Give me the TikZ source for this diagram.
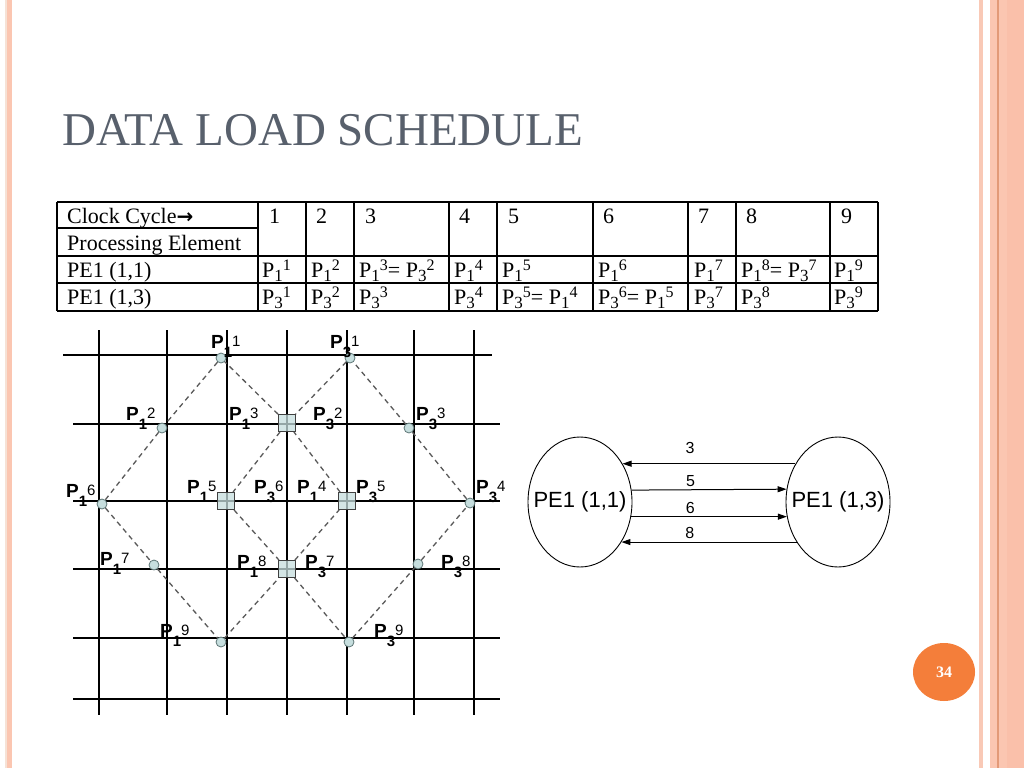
\documentclass[tikz,border=0pt]{standalone}
\usepackage{fontspec}
\setmainfont{Liberation Serif}
\newfontfamily\arialf{Liberation Sans}
\newfontfamily\dejavu{DejaVu Sans}
\usetikzlibrary{shapes.geometric,arrows.meta}
\definecolor{titlec}{HTML}{58606C}
\definecolor{ptfill}{HTML}{C6DEDE}
\definecolor{ptdraw}{HTML}{5E7676}
\definecolor{badgec}{HTML}{F47E3A}
\definecolor{stripeA}{HTML}{F9C9B6}
\definecolor{stripeB}{HTML}{FBC6B1}
\definecolor{stripeC}{HTML}{FAC0AA}
\definecolor{stripeD}{HTML}{E39A78}
\definecolor{stripeE}{HTML}{F6E2D6}
\newcommand\tp[2]{P\raisebox{-4pt}{\fontsize{17}{17}\selectfont #1}\raisebox{7pt}{\fontsize{16}{16}\selectfont #2}}
\newcommand\gp[2]{P\raisebox{-9pt}{\fontsize{15}{15}\selectfont\bfseries #1}\raisebox{2pt}{\fontsize{15}{15}\selectfont\mdseries #2}}
\tikzset{
  tcell/.style={anchor=base west, inner sep=0, font=\fontsize{22}{26}\selectfont},
  tline/.style={line width=1.2pt, black},
  gridl/.style={line width=1.4pt, black},
  dsh/.style={line width=1.3pt, draw=black!65, dash pattern=on 5pt off 4pt},
  ptc/.style={circle, draw=ptdraw, fill=ptfill, line width=0.8pt, minimum size=10pt, inner sep=0},
  pts/.style={rectangle, draw=black!75, fill=ptfill, fill opacity=0.75, line width=1pt, minimum size=17pt, inner sep=0},
  glab/.style={anchor=base west, inner sep=0, font=\arialf\fontsize{19}{21}\selectfont\bfseries},
  ell/.style={ellipse, draw, line width=0.9pt, minimum width=104pt, minimum height=130pt, inner sep=0},
  etxt/.style={inner sep=0, font=\arialf\fontsize{22}{24}\selectfont},
  arr/.style={line width=1pt, -{Triangle[length=9pt,width=6pt]}},
  alab/.style={inner sep=0, font=\arialf\fontsize{16}{18}\selectfont},
}
\begin{document}
\begin{tikzpicture}[x=1pt,y=-1pt]
\useasboundingbox (0,0) rectangle (1024,768);
\fill[white] (0,0) rectangle (1024,768);
% side stripes
\fill[stripeE] (5,0) rectangle (7,768);
\fill[stripeB] (7,0) rectangle (12,768);
\fill[stripeA] (979,0) rectangle (983,768);
\fill[stripeB] (990,0) rectangle (1024,768);
\fill[stripeC] (1007,0) rectangle (1024,768);
\draw[stripeD, line width=1.3pt] (998,0) -- (998,768);
% title
\node[anchor=base west, inner sep=0, text=titlec, font=\fontsize{47}{50}\selectfont] (title) at (62,145) {DATA LOAD SCHEDULE};
% table grid
\draw[tline] (57,202) -- (878,202);
\draw[tline] (57,228) -- (258,228);
\draw[tline] (57,256) -- (878,256);
\draw[tline] (57,283) -- (878,283);
\draw[tline] (57,311) -- (878,311);
\foreach \c in {57,258,306,354,449,497,593,688,736,830,878}
  \draw[tline] (\c,202) -- (\c,311);
% table text
\node[tcell] (h0) at (67,223) {Clock Cycle{\dejavu\bfseries\fontsize{20}{20}\selectfont →}};
\node[tcell] (h00) at (67,250) {Processing Element};
\node[tcell] (h1) at (269,223) {1};
\node[tcell] (h2) at (316,223) {2};
\node[tcell] (h3) at (365,223) {3};
\node[tcell] (h4) at (459,223) {4};
\node[tcell] (h5) at (508,223) {5};
\node[tcell] (h6) at (603,223) {6};
\node[tcell] (h7) at (698,223) {7};
\node[tcell] (h8) at (746,223) {8};
\node[tcell] (h9) at (841,223) {9};
\node[tcell] (r1) at (67,277) {PE1 (1,1)};
\node[tcell] (r1c1) at (262,277) {\tp11};
\node[tcell] (r1c2) at (311,277) {\tp12};
\node[tcell] (r1c3) at (359,277) {\tp13= \tp32};
\node[tcell] (r1c4) at (454,277) {\tp14};
\node[tcell] (r1c5) at (502,277) {\tp15};
\node[tcell] (r1c6) at (598,277) {\tp16};
\node[tcell] (r1c7) at (694,277) {\tp17};
\node[tcell] (r1c8) at (741,277) {\tp18= \tp37};
\node[tcell] (r1c9) at (834,277) {\tp19};
\node[tcell] (r2) at (67,304) {PE1 (1,3)};
\node[tcell] (r2c1) at (262,304) {\tp31};
\node[tcell] (r2c2) at (311,304) {\tp32};
\node[tcell] (r2c3) at (359,304) {\tp33};
\node[tcell] (r2c4) at (454,304) {\tp34};
\node[tcell] (r2c5) at (502,304) {\tp35= \tp14};
\node[tcell] (r2c6) at (598,304) {\tp36= \tp15};
\node[tcell] (r2c7) at (694,304) {\tp37};
\node[tcell] (r2c8) at (741,304) {\tp38};
\node[tcell] (r2c9) at (834,304) {\tp39};
% mesh grid
\foreach \x in {99,167,227,287,347,414,474}
  \draw[gridl] (\x,330) -- (\x,715);
\draw[gridl] (63,355) -- (492,355);
\foreach \y in {424,501,569,638,699}
  \draw[gridl] (73,\y) -- (500,\y);
% points
\node[ptc] (a1) at (221,358) {};
\node[ptc] (b1) at (350,358) {};
\node[ptc] (a2) at (162,428) {};
\node[ptc] (b3) at (409,428) {};
\node[ptc] (a6) at (102,504) {};
\node[ptc] (b4) at (470,503) {};
\node[ptc] (a7) at (154,565) {};
\node[ptc] (b8) at (418,564) {};
\node[ptc] (a9) at (221,642) {};
\node[ptc] (b9) at (349,642) {};
\node[pts] (s1) at (287,423) {};
\node[pts] (s2) at (226,501) {};
\node[pts] (s3) at (347,501) {};
\node[pts] (s4) at (287,569) {};
% dashed diamonds
\draw[dsh] (a1) -- (a2) -- (a6) -- (a7) -- (a9) -- (s4) -- (s3) -- (s1) -- (a1);
\draw[dsh] (b1) -- (s1) -- (s2) -- (s4) -- (b9) -- (b8) -- (b4) -- (b3) -- (b1);
% grid labels
\node[glab] (la1) at (211,348) {\gp11};
\node[glab] (lb1) at (330,348) {\gp31};
\node[glab] (la2) at (126,420) {\gp12};
\node[glab] (la3) at (229,420) {\gp13};
\node[glab] (lb2) at (313,420) {\gp32};
\node[glab] (lb3) at (416,420) {\gp33};
\node[glab] (la6) at (66,497) {\gp16};
\node[glab] (la5) at (187,493) {\gp15};
\node[glab] (lb6) at (254,493) {\gp36};
\node[glab] (la4) at (297,493) {\gp14};
\node[glab] (lb5) at (356,493) {\gp35};
\node[glab] (lb4) at (476,493) {\gp34};
\node[glab] (la7) at (100,565) {\gp17};
\node[glab] (la8) at (237,568) {\gp18};
\node[glab] (lb7) at (305,568) {\gp37};
\node[glab] (lb8) at (441,568) {\gp38};
\node[glab] (la9) at (160,637) {\gp19};
\node[glab] (lb9) at (374,637) {\gp39};
% state diagram
\node[ell] (L) at (580,502) {};
\node[ell] (R) at (838,502) {};
\node[etxt] (Lt) at (L.center) {PE1 (1,1)};
\node[etxt] (Rt) at (R.center) {PE1 (1,3)};
\draw[arr] (R.138) -- node[alab, pos=0.61, yshift=16pt] (n3) {3} (L.42);
\draw[arr] (L.13.2) -- node[alab, pos=0.38, yshift=9pt] (n5) {5} (R.166.8);
\draw[arr] (L.-16.5) -- node[alab, pos=0.38, yshift=9pt] (n6) {6} (R.196.5);
\draw[arr] (R.224.3) -- node[alab, pos=0.61, yshift=9pt] (n8) {8} (L.-44.3);
% page number badge
\node[ellipse, fill=badgec, minimum width=62pt, minimum height=58pt, inner sep=0, text=white, font=\fontsize{16}{16}\selectfont\bfseries] (pg) at (944,672) {34};
\end{tikzpicture}
\end{document}
